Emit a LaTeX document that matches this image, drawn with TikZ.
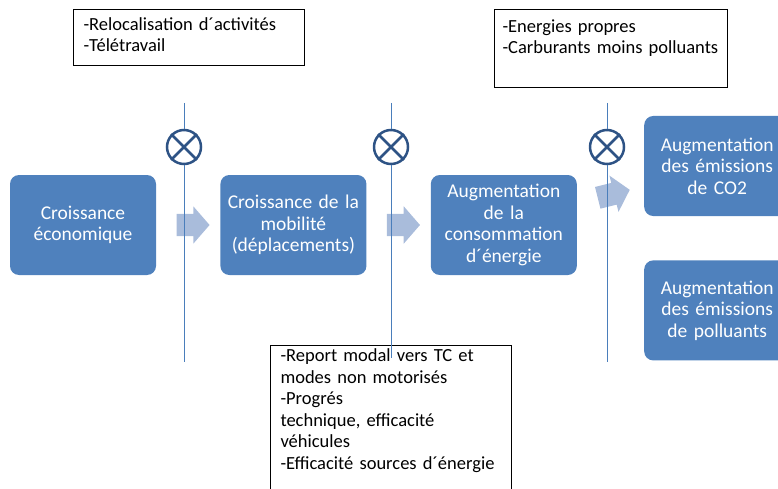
\documentclass[tikz,border=0pt]{standalone}
\usepackage{fontspec}
\setmainfont{Carlito}
\usepackage{tikz}
\usetikzlibrary{positioning, calc, shapes.arrows}
\hyphenpenalty=10000
\definecolor{officeblue}{HTML}{4F81BD}
\definecolor{paleblue}{HTML}{A9BCDB}
\definecolor{darkblue}{HTML}{2E5385}
\definecolor{lineblue}{HTML}{4A7EBB}
\tikzstyle{bblock} = [rectangle, fill=officeblue, text=white, 
text width=140pt, inner sep=3pt, align=center, rounded corners=9pt, minimum height=100pt,
font=\fontsize{19.5}{21.5}\selectfont]
\tikzstyle{tblock} = [rectangle, draw=black, line width=1pt, anchor=north west, 
align=left, inner xsep=10pt, inner ysep=3pt, font=\fontsize{18.5}{21.5}\selectfont]
\tikzstyle{barrow} = [single arrow, fill=paleblue, inner xsep=0pt, inner ysep=11pt, 
single arrow head extend=7.5pt, single arrow tip angle=98, minimum height=33pt]
\tikzstyle{stopsign} = [circle, draw=darkblue, line width=2.5pt, minimum size=34pt, inner sep=0pt]
\tikzstyle{vline} = [lineblue, line width=1pt]

\begin{document}
\begin{tikzpicture}[node distance=64pt, x=1pt, y=-1pt]
                \useasboundingbox (0,0) rectangle (778,489);
                \clip (0,0) rectangle (778,489);
                \node (1) [bblock] at (83,225) {Croissance\\économique};
                \node (2) [bblock, right=of 1] {Croissance de la\\mobilité\\(déplacements)};
                \node (3) [bblock, right=of 2] {Augmentation\\de la\\consommation\\d´énergie};
                \node (4) [bblock, right=67pt of 3, yshift=59pt] {Augmentation\\des émissions\\de CO2};
                \node (5) [bblock, below=44pt of 4] {Augmentation\\des émissions\\de polluants};
                \node (a1) [barrow] at ($(1.east)!0.5!(2.west)$) {};
                \node (a2) [barrow] at ($(2.east)!0.5!(3.west)$) {};
                \node (a3) [barrow, rotate=14] at (609,195) {};
                \node (t1) [tblock, text width=211pt, text height=18pt, text depth=32pt] at (73,9)
                      {-Relocalisation d´activités\\-Télétravail};
                \node (t2) [tblock, inner xsep=8pt, text width=217pt, text height=20pt, text depth=52pt] at (494,9)
                      {-Energies propres\\\mbox{-Carburants moins polluants}};
                \node (t3) [tblock, text width=221pt, text height=13pt, text depth=150pt] at (270,345)
                      {-Report modal vers TC et\\modes non motorisés\\-Progrés\\technique, efficacité\\véhicules\\-Efficacité sources d´énergie};
                % barriers
                \foreach \n/\x/\ybot in {1/184/362, 2/391/358, 3/607/362} {
                    \coordinate (top\n) at (\x,103);
                    \coordinate (bot\n) at (\x,\ybot);
                    \node (c\n) [stopsign] at (\x,147) {};
                    \draw [vline] (top\n) -- (c\n) -- (bot\n);
                    \draw [darkblue, line width=2.5pt] (c\n.north west) -- (c\n.south east);
                    \draw [darkblue, line width=2.5pt] (c\n.north east) -- (c\n.south west);
                }
        \end{tikzpicture}
\end{document}
